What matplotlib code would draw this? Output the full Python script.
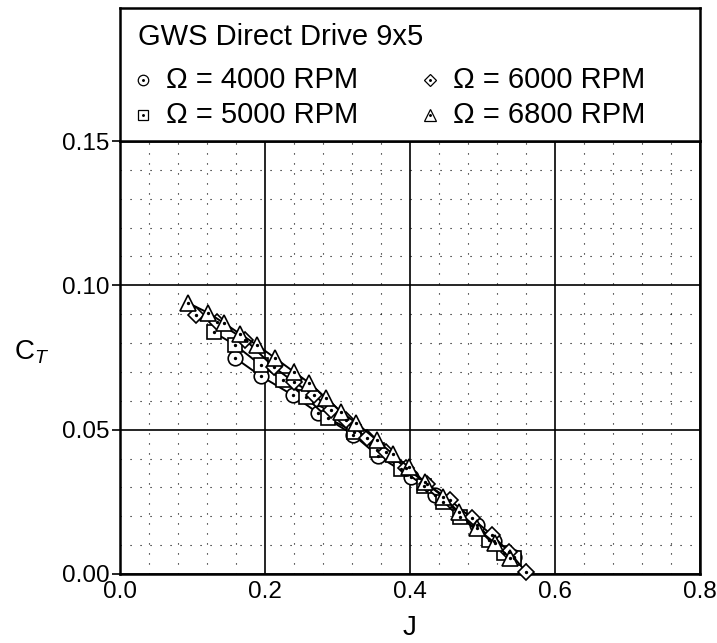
import matplotlib
matplotlib.use("Agg")
import matplotlib.pyplot as plt
from matplotlib.ticker import MultipleLocator

plt.rcParams['font.family'] = ['Liberation Sans', 'DejaVu Sans']
plt.rcParams['mathtext.fontset'] = 'custom'
plt.rcParams['mathtext.rm'] = 'Liberation Sans'
plt.rcParams['mathtext.it'] = 'Liberation Sans:italic'

title = "GWS Direct Drive 9x5"
labels = ["\u03a9 = 4000 RPM", "\u03a9 = 5000 RPM", "\u03a9 = 6000 RPM", "\u03a9 = 6800 RPM"]
markers = ["o", "s", "D", "^"]

J_4000 = [0.159, 0.194, 0.238, 0.273, 0.322, 0.356, 0.402, 0.434, 0.492, 0.516, 0.543]
CT_4000 = [0.0748, 0.0686, 0.0620, 0.0558, 0.0482, 0.0409, 0.0336, 0.0274, 0.0170, 0.0114, 0.0059]

J_5000 = [0.129, 0.159, 0.194, 0.225, 0.256, 0.287, 0.323, 0.354, 0.388, 0.419, 0.446, 0.469, 0.509, 0.530, 0.543]
CT_5000 = [0.0838, 0.0793, 0.0724, 0.0672, 0.0613, 0.0540, 0.0492, 0.0430, 0.0364, 0.0305, 0.0249, 0.0197, 0.0118, 0.0073, 0.0055]

J_6000 = [0.105, 0.134, 0.173, 0.212, 0.240, 0.268, 0.291, 0.312, 0.340, 0.367, 0.395, 0.423, 0.455, 0.485, 0.513, 0.537, 0.560]
CT_6000 = [0.0897, 0.0873, 0.0811, 0.0717, 0.0665, 0.0620, 0.0568, 0.0533, 0.0471, 0.0423, 0.0367, 0.0312, 0.0256, 0.0194, 0.0135, 0.0076, 0.0007]

J_6800 = [0.094, 0.122, 0.143, 0.166, 0.189, 0.214, 0.240, 0.261, 0.284, 0.305, 0.326, 0.354, 0.376, 0.398, 0.420, 0.446, 0.467, 0.492, 0.517, 0.538]
CT_6800 = [0.0939, 0.0904, 0.0870, 0.0831, 0.0793, 0.0748, 0.0700, 0.0662, 0.0610, 0.0561, 0.0523, 0.0464, 0.0416, 0.0371, 0.0319, 0.0267, 0.0215, 0.0159, 0.0107, 0.0055]

x_ticks = [0.0, 0.2, 0.4, 0.6, 0.8]
y_ticks = [0.00, 0.05, 0.10, 0.15]

series = [(J_4000, CT_4000), (J_5000, CT_5000), (J_6000, CT_6000), (J_6800, CT_6800)]
msizes = {"o": 10.5, "s": 9.5, "D": 8.5, "^": 12}

W, H = 717, 643
fig = plt.figure(figsize=(W / 100, H / 100), dpi=100)
ax = fig.add_axes([120 / W, 1 - 574 / H, 580 / W, 433 / H])

ax.set_xlim(0, 0.8)
ax.set_ylim(0, 0.15)
ax.set_xticks(x_ticks)
ax.set_xticklabels([f"{v:.1f}" for v in x_ticks])
ax.set_yticks(y_ticks)
ax.set_yticklabels([f"{v:.2f}" for v in y_ticks])
ax.xaxis.set_minor_locator(MultipleLocator(0.04))
ax.yaxis.set_minor_locator(MultipleLocator(0.01))
ax.grid(which="major", color="black", lw=1.2)
ax.grid(which="minor", color="black", lw=0.8, linestyle=(0, (1, 8)))
ax.tick_params(which="minor", length=0)
ax.tick_params(which="major", direction="out", length=6, width=1.2, labelsize=17.5, pad=1.5)
ax.tick_params(axis="x", length=0, pad=5)
for s in ax.spines.values():
    s.set_linewidth(1.8)
ax.set_axisbelow(True)

for (jx, cy), m in zip(series, markers):
    ax.plot(jx, cy, color="black", lw=1.4, marker=m, ms=msizes[m], mfc="white",
            mec="black", mew=1.2, zorder=3, clip_on=False)
    ax.plot(jx, cy, ls="none", marker=".", ms=2.8, color="black", zorder=4, clip_on=False)

ax.set_xlabel("J", fontsize=20)
ax.set_ylabel(r"C$_{T}$", fontsize=20, rotation=0)
ax.xaxis.set_label_coords(0.5, -0.095)
ax.yaxis.set_label_coords(-0.152, 0.48)

# legend box above the axes
lax = fig.add_axes([120 / W, 1 - 141 / H, 580 / W, 133 / H])
lax.set_xlim(0, 580)
lax.set_ylim(133, 0)
lax.set_xticks([])
lax.set_yticks([])
for s in lax.spines.values():
    s.set_linewidth(1.8)
lax.text(18, 29, title, fontsize=21, va="center", ha="left")
pos = [(23, 72), (23, 107), (310, 72), (310, 107)]
for (px, py), m, lab in zip(pos, markers, labels):
    lax.plot([px], [py], marker=m, ms=msizes[m] * 0.72, mfc="white", mec="black", mew=0.9)
    lax.plot([px], [py], marker=".", ms=2.2, color="black")
    lax.text(px + 23, py, lab, fontsize=21, va="center", ha="left")

fig.savefig("out.png", dpi=100)
